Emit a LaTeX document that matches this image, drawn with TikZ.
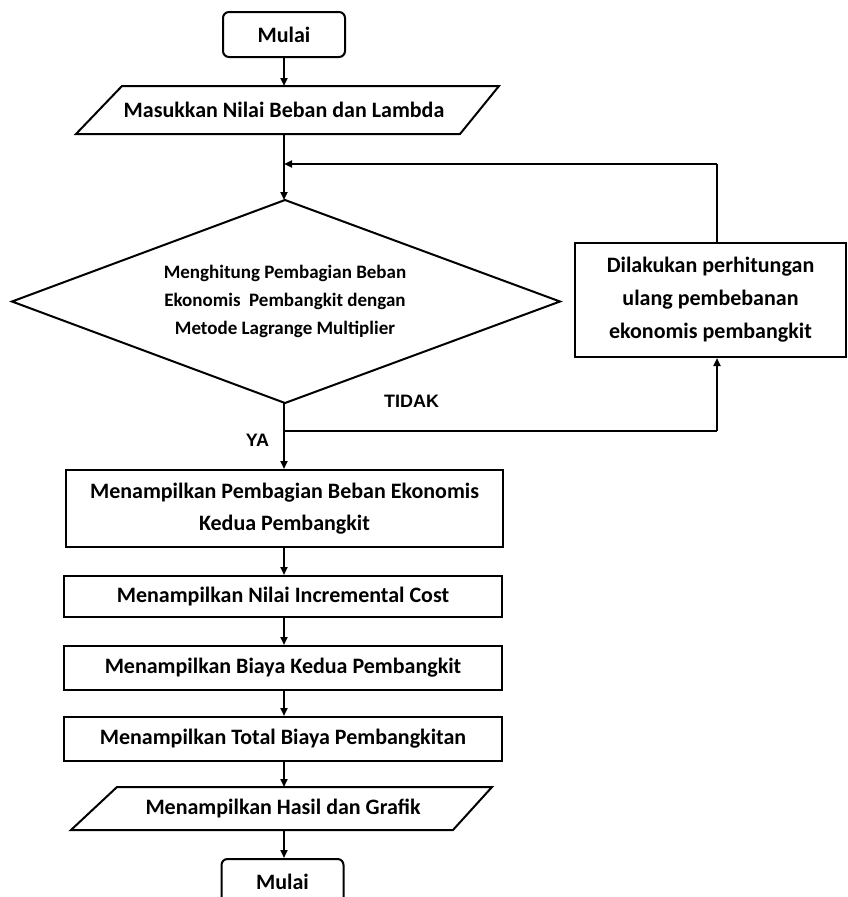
\documentclass[tikz,border=0pt]{standalone}
\usepackage{fontspec}
\setmainfont{Carlito}
\newfontfamily\lblfont{Liberation Sans}
\usetikzlibrary{shapes.geometric,arrows.meta}
\begin{document}
\begin{tikzpicture}[x=1pt,y=-1pt,
  every node/.style={font=\bfseries\fontsize{22}{32}\selectfont, align=center, inner sep=0pt},
  shp/.style={draw, line width=2pt},
  boxrect/.style={shp, rectangle, minimum width=#1},
  term/.style={shp, rectangle, rounded corners=6pt, minimum width=122pt, minimum height=45pt},
  lbl/.style={font=\lblfont\bfseries\fontsize{18}{20}\selectfont},
  arr/.style={line width=2pt, -{Triangle[length=8pt,width=7pt]}},
  ln/.style={line width=2pt}
]
\useasboundingbox (0,0) rectangle (848,897);
% start
\node[term] (start) at (284,34.5) {Mulai};
% input parallelogram
\draw[shp, line join=miter] (122,86) -- (499,86) -- (460,134) -- (76,134) -- cycle;
\node[minimum width=300pt, minimum height=48pt] (in1) at (284,110) {Masukkan Nilai Beban dan Lambda};
% decision
\draw[shp, line join=miter] (285,200) -- (560,301.5) -- (285,403) -- (12,301.5) -- cycle;
\node[minimum width=300pt, minimum height=203pt,
      font=\bfseries\fontsize{19}{28}\selectfont] (dec) at (285,301.5)
  {Menghitung Pembagian Beban\\Ekonomis\ \ Pembangkit dengan\\Metode Lagrange Multiplier};
% redo box
\node[boxrect=271pt, minimum height=114pt, font=\bfseries\fontsize{22}{33}\selectfont] (redo) at (710.5,300)
  {Dilakukan perhitungan\\ulang pembebanan\\ekonomis pembangkit};
% process boxes
\node[boxrect=437pt, minimum height=77pt] (b1) at (284.5,508.5) {Menampilkan Pembagian Beban Ekonomis\\Kedua Pembangkit};
\node[boxrect=438pt, minimum height=41pt] (b2) at (283,596.5) {Menampilkan Nilai Incremental Cost};
\node[boxrect=438pt, minimum height=44pt] (b3) at (283,668) {Menampilkan Biaya Kedua Pembangkit};
\node[boxrect=438pt, minimum height=44pt] (b4) at (283,739) {Menampilkan Total Biaya Pembangkitan};
% output parallelogram
\draw[shp, line join=miter] (117,787) -- (492,787) -- (453,830) -- (71,830) -- cycle;
\node[minimum width=300pt, minimum height=43pt] (out) at (283,808.5) {Menampilkan Hasil dan Grafik};
% end
\node[term] (stop) at (282.5,881.5) {Mulai};
% coordinates
\coordinate (in1top) at (284,86);
\coordinate (in1bot) at (284,134);
\coordinate (dectop) at (284,200);
\coordinate (decbot) at (284,403);
\coordinate (join) at (284,164);
\coordinate (split) at (284,431);
\coordinate (splitR) at (717,431);
\coordinate (loopTop) at (717,164);
\coordinate (outtop) at (284,787);
\coordinate (outbot) at (284,830);
% connectors
\draw[arr] (start.south) -- (in1top);
\draw[ln] (in1bot) -- (join);
\draw[arr] (join) -- (dectop);
\draw[ln] (loopTop |- redo.north) -- (loopTop);
\draw[arr] (loopTop) -- (join);
\draw[ln] (decbot) -- (split);
\draw[arr] (split) -- (split |- b1.north);
\draw[ln] (split) -- (splitR);
\draw[arr] (splitR) -- (splitR |- redo.south);
\draw[arr] (b1.south -| split) -- (b2.north -| split);
\draw[arr] (b2.south -| split) -- (b3.north -| split);
\draw[arr] (b3.south -| split) -- (b4.north -| split);
\draw[arr] (b4.south -| split) -- (outtop);
\draw[arr] (outbot) -- (stop.north -| split);
% labels
\node[lbl] (tidak) at (411.5,401.5) {TIDAK};
\node[lbl] (ya) at (257.5,440.5) {YA};
\end{tikzpicture}
\end{document}
